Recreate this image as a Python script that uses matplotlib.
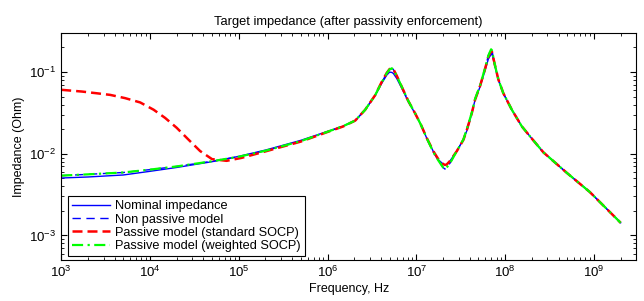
import numpy as np
import matplotlib.pyplot as plt

plt.rcParams['font.family'] = ['Liberation Sans', 'DejaVu Sans']

# frequency points (Hz) shared by the nominal / non passive / weighted curves
freq = [1e3, 2e3, 5e3, 1e4, 2e4, 5e4, 1e5, 2e5, 5e5, 1e6, 1.5e6, 2.05e6, 2.65e6,
        3.43e6, 4.08e6, 4.65e6, 5.0e6, 5.3e6, 5.5e6, 6.0e6, 6.86e6, 8.1e6, 9.7e6,
        1.13e7, 1.31e7, 1.56e7, 1.78e7, 2.0e7, 2.1e7, 2.2e7, 2.4e7, 2.86e7, 3.39e7,
        3.73e7, 4.22e7, 4.59e7, 5.23e7, 5.95e7, 6.48e7, 6.95e7, 7.1e7, 7.7e7, 8.4e7,
        9.55e7, 1.19e8, 1.54e8, 1.9e8, 2.7e8, 4.9e8, 9e8, 2e9]

# Nominal impedance (Ohm)
z_nominal = [0.00505, 0.0052, 0.0055, 0.0061, 0.0068, 0.0080, 0.0093, 0.0111, 0.0146,
             0.0188, 0.0218, 0.0255, 0.0345, 0.0515, 0.073, 0.092, 0.100, 0.099,
             0.0965, 0.084, 0.0634, 0.0437, 0.0310, 0.0225, 0.0155, 0.0106, 0.0084,
             0.0075, 0.0073, 0.0074, 0.0082, 0.0108, 0.0150, 0.0195, 0.0316, 0.0458,
             0.0664, 0.1057, 0.145, 0.165, 0.169, 0.116, 0.080, 0.055, 0.0346,
             0.0217, 0.0164, 0.0104, 0.0059, 0.0034, 0.00143]

# Non passive model
z_nonpassive = [0.0054, 0.0056, 0.0059, 0.0064, 0.0070, 0.0081, 0.0092, 0.0109, 0.0143,
                0.0186, 0.0218, 0.0255, 0.0345, 0.0520, 0.075, 0.097, 0.108, 0.111,
                0.108, 0.090, 0.066, 0.0445, 0.0312, 0.0225, 0.0155, 0.0104, 0.0082,
                0.0068, 0.0065, 0.0068, 0.0077, 0.0108, 0.0150, 0.0205, 0.0320, 0.047,
                0.069, 0.112, 0.160, 0.190, 0.185, 0.120, 0.081, 0.055, 0.0346,
                0.0217, 0.0164, 0.0104, 0.0059, 0.0034, 0.00143]

# Passive model (weighted SOCP)
z_weighted = [0.0054, 0.0056, 0.0059, 0.0064, 0.0070, 0.0081, 0.0092, 0.0109, 0.0143,
              0.0186, 0.0218, 0.0255, 0.0345, 0.0520, 0.075, 0.097, 0.108, 0.111,
              0.108, 0.090, 0.066, 0.0445, 0.0312, 0.0225, 0.0155, 0.0104, 0.0082,
              0.0068, 0.0065, 0.0068, 0.0077, 0.0108, 0.0150, 0.0205, 0.0320, 0.047,
              0.069, 0.112, 0.160, 0.190, 0.185, 0.120, 0.081, 0.055, 0.0346,
              0.0217, 0.0164, 0.0104, 0.0059, 0.0034, 0.00143]

# Passive model (standard SOCP)
freq_std = [1e3, 1.71e3, 2.46e3, 3.56e3, 5.25e3, 7.76e3, 1.1e4, 1.48e4, 2.0e4, 2.7e4,
            3.67e4, 5.0e4, 7.3e4, 1.07e5, 2e5, 5e5, 1e6, 1.5e6, 2.05e6, 2.65e6,
            3.43e6, 4.08e6, 4.65e6, 5.0e6, 5.3e6, 5.5e6, 6.0e6, 6.86e6, 8.1e6, 9.7e6,
            1.13e7, 1.31e7, 1.56e7, 1.78e7, 2.0e7, 2.1e7, 2.2e7, 2.4e7, 2.86e7, 3.39e7,
            3.73e7, 4.22e7, 4.59e7, 5.23e7, 5.95e7, 6.48e7, 6.95e7, 7.1e7, 7.7e7, 8.4e7,
            9.55e7, 1.19e8, 1.54e8, 1.9e8, 2.7e8, 4.9e8, 9e8, 2e9]
z_standard = [0.0607, 0.0578, 0.0552, 0.0526, 0.048, 0.0425, 0.0346, 0.0275, 0.0208,
              0.015, 0.0108, 0.0086, 0.0082, 0.0089, 0.0107, 0.0141, 0.0185, 0.0216,
              0.0255, 0.0345, 0.0520, 0.076, 0.098, 0.109, 0.112, 0.109, 0.091, 0.066,
              0.0445, 0.0312, 0.0225, 0.0156, 0.0107, 0.0085, 0.0075, 0.0073, 0.0074,
              0.0082, 0.0108, 0.0148, 0.0200, 0.0316, 0.046, 0.068, 0.110, 0.155,
              0.180, 0.178, 0.120, 0.081, 0.055, 0.0346, 0.0217, 0.0164, 0.0104,
              0.0059, 0.0034, 0.00143]

fig, ax = plt.subplots(figsize=(6.44, 3.01), dpi=100)
fig.subplots_adjust(left=0.095, right=0.988, bottom=0.136, top=0.89)

ax.loglog(freq, z_nominal, '-', color=(0, 0, 1), lw=1.0, label='Nominal impedance')
ax.loglog(freq, z_nonpassive, '--', color=(0, 0, 1), lw=1.0, dashes=(6, 4),
          label='Non passive model')
ax.loglog(freq_std, z_standard, '--', color=(1, 0, 0), lw=1.8, dashes=(4, 2),
          label='Passive model (standard SOCP)')
ax.loglog(freq, z_weighted, '-.', color=(0, 1, 0), lw=1.6, dashes=(5, 2, 1, 2),
          label='Passive model (weighted SOCP)')

ax.set_xlim(1e3, 3e9)
ax.set_ylim(5e-4, 0.3)
ax.set_xticks([1e3, 1e4, 1e5, 1e6, 1e7, 1e8, 1e9])
ax.set_yticks([1e-3, 1e-2, 1e-1])
ax.tick_params(which='both', direction='in', top=True, right=True, labelsize=9.5)
ax.tick_params(which='major', length=4)
ax.tick_params(which='minor', length=2)

ax.set_title('Target impedance (after passivity enforcement)', fontsize=9.3, pad=6)
ax.set_xlabel('Frequency, Hz', fontsize=9, labelpad=2)
ax.set_ylabel('Impedance (Ohm)', fontsize=9, labelpad=3)

leg = ax.legend(loc='lower left', bbox_to_anchor=(0.012, 0.018), borderaxespad=0,
                fontsize=9.2, handlelength=3.0, fancybox=False, framealpha=1,
                edgecolor='black', labelspacing=0.1, handletextpad=0.4,
                borderpad=0.3)
leg.get_frame().set_linewidth(0.8)

fig.savefig('out.png', dpi=100)
